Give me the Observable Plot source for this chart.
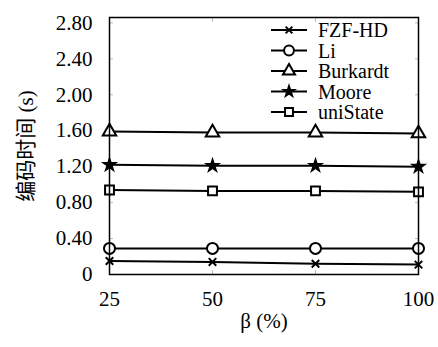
<!DOCTYPE html>
<html>
<head>
<meta charset="utf-8">
<script src="https://cdn.jsdelivr.net/npm/d3@7"></script>
<script src="https://cdn.jsdelivr.net/npm/@observablehq/plot@0.6"></script>
<style>
  html, body { margin: 0; padding: 0; background: #fff; }
  #chart { width: 438px; height: 347px; }
  #chart svg, #chart svg text { font-family: "Liberation Serif", "Times New Roman", "DejaVu Serif", "Noto Sans CJK SC", serif !important; }
</style>
</head>
<body>
<div id="chart"></div>
<script>
const betas = [25, 50, 75, 100];
const seriesNames = ["FZF-HD", "Li", "Burkardt", "Moore", "uniState"];
const fzfhd = [0.15, 0.14, 0.12, 0.11];
const li = [0.29, 0.29, 0.29, 0.29];
const burkardt = [1.59, 1.58, 1.58, 1.57];
const moore = [1.22, 1.21, 1.21, 1.20];
const unistate = [0.94, 0.93, 0.93, 0.92];
const yTicks = [0, 0.4, 0.8, 1.2, 1.6, 2.0, 2.4, 2.8];
const xTicks = [25, 50, 75, 100];
const symbols = ["times", "circle", "triangle", "star", "square"];
const fills = ["black", "white", "white", "black", "white"];
const sizes = [3.5, 5.5, 5, 3.5, 5];

const allValues = [fzfhd, li, burkardt, moore, unistate];
const rows = [];
seriesNames.forEach((name, i) => {
  betas.forEach((b, j) => rows.push({series: name, beta: b, value: allValues[i][j]}));
});

const dotMarks = seriesNames.map((name, i) =>
  Plot.dot(rows.filter(d => d.series === name), {
    x: "beta", y: "value", symbol: symbols[i], r: sizes[i],
    stroke: "black", strokeWidth: 2, fill: fills[i]
  })
);

const chart = Plot.plot({
  width: 438,
  height: 347,
  marginLeft: 109,
  marginRight: 20,
  marginTop: 17,
  marginBottom: 73,
  style: "font-size: 21px; color: black; background: white;",
  x: {domain: [25, 100]},
  y: {domain: [0, 2.86]},
  marks: [
    Plot.axisY({ticks: yTicks, tickSize: -4, text: null, stroke: "#bbb", label: null}),
    Plot.axisY({ticks: yTicks, anchor: "right", tickSize: -4, text: null, stroke: "#bbb", label: null}),
    Plot.axisX({ticks: xTicks, tickSize: -4, text: null, stroke: "#bbb", label: null}),
    Plot.axisX({ticks: xTicks, anchor: "top", tickSize: -4, text: null, stroke: "#bbb", label: null}),
    Plot.axisY({ticks: yTicks, tickSize: 0, tickPadding: 17, fontSize: 21,
      tickFormat: d => d === 0 ? "0" : d.toFixed(2),
      label: "编码时间 (s)", labelAnchor: "center", labelArrow: "none", labelOffset: 91}),
    Plot.axisX({ticks: xTicks, tickSize: 0, tickPadding: 17, fontSize: 21, tickFormat: d => String(d),
      label: null}),
    Plot.text(["β (%)"], {frameAnchor: "bottom", textAnchor: "middle", dy: 53, fontSize: 21, fill: "black"}),
    Plot.line(rows, {x: "beta", y: "value", z: "series", stroke: "black", strokeWidth: 2}),
    ...dotMarks,
    Plot.frame({stroke: "black", strokeWidth: 1.5})
  ]
});

// Legend inside the frame, top-right
const svg = d3.select(chart);
const legend = svg.append("g").attr("transform", "translate(271,30)");
seriesNames.forEach((name, i) => {
  const g = legend.append("g").attr("transform", `translate(0,${i * 20.5})`);
  g.append("line").attr("x1", 0).attr("x2", 36).attr("y1", 0).attr("y2", 0)
    .attr("stroke", "black").attr("stroke-width", 2);
  const symType = [d3.symbolTimes, d3.symbolCircle, d3.symbolTriangle, d3.symbolStar, d3.symbolSquare][i];
  g.append("path").attr("transform", "translate(18,0)")
    .attr("d", d3.symbol(symType, Math.PI * sizes[i] * sizes[i] * 0.8)())
    .attr("fill", fills[i]).attr("stroke", "black").attr("stroke-width", 2);
  g.append("text").attr("x", 47).attr("y", 0).attr("dy", "0.35em")
    .attr("text-anchor", "start")
    .attr("font-size", 20).attr("fill", "black").text(name);
});

document.getElementById("chart").appendChild(chart);
</script>
</body>
</html>
